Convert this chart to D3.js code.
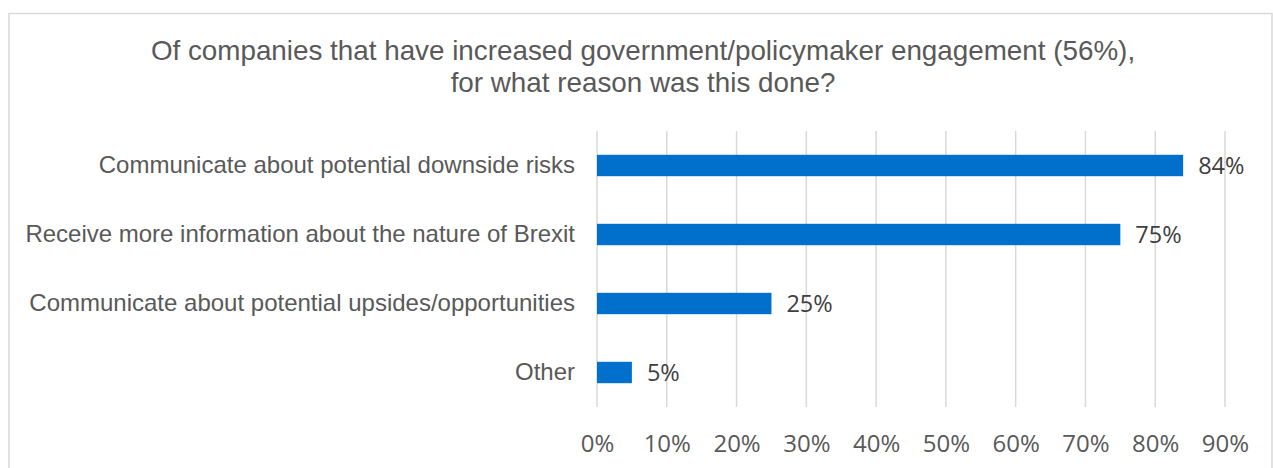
<!DOCTYPE html>
<html>
<head>
<meta charset="utf-8">
<script src="https://cdn.jsdelivr.net/npm/d3@7"></script>
<style>
  body { margin: 0; background: #fff; }
</style>
</head>
<body>
<script>
var categories = [
  "Communicate about potential downside risks",
  "Receive more information about the nature of Brexit",
  "Communicate about potential upsides/opportunities",
  "Other"
];
var values = [84, 75, 25, 5];
var ticks = [0, 10, 20, 30, 40, 50, 60, 70, 80, 90];
var titleLines = [
  "Of companies that have increased government/policymaker engagement (56%),",
  "for what reason was this done?"
];

var width = 1273, height = 468;
var textGrey = "#595959";

var svg = d3.select("body").append("svg")
    .attr("width", width)
    .attr("height", height);

// chart border (bottom edge runs off the picture)
svg.append("rect")
    .attr("x", 9)
    .attr("y", 13.5)
    .attr("width", 1263)
    .attr("height", 480)
    .attr("fill", "#fff")
    .attr("stroke", "#d9d9d9")
    .attr("stroke-width", 1.5);

svg.selectAll("text.title")
    .data(titleLines)
  .enter().append("text")
    .attr("class", "title")
    .attr("x", 643)
    .attr("y", function(d, i) { return 59.5 + i * 32.5; })
    .attr("text-anchor", "middle")
    .style("font-family", "Liberation Sans, Arial, sans-serif")
    .style("font-size", "27.8px")
    .style("fill", textGrey)
    .text(function(d) { return d; });

var x = d3.scaleLinear().domain([0, 90]).range([597, 1225]);
var y = d3.scaleBand().domain(categories).range([131, 407]).paddingInner(0.69).paddingOuter(0.345);

// gridlines
svg.selectAll("line.grid")
    .data(ticks)
  .enter().append("line")
    .attr("class", "grid")
    .attr("x1", function(d) { return x(d); })
    .attr("x2", function(d) { return x(d); })
    .attr("y1", 131)
    .attr("y2", 407)
    .attr("stroke", "#d9d9d9")
    .attr("stroke-width", 1.5);

// x axis labels
var xAxis = d3.axisBottom(x)
    .tickValues(ticks)
    .tickSize(0)
    .tickFormat(function(d) { return d + "%"; });

var gx = svg.append("g")
    .attr("transform", "translate(0,407)")
    .call(xAxis);
gx.select(".domain").remove();
gx.selectAll("text")
    .attr("y", 45)
    .attr("dy", 0)
    .style("font-family", "Open Sans, sans-serif")
    .style("font-size", "24px")
    .style("fill", textGrey);

// category labels
var yAxis = d3.axisLeft(y).tickSize(0).tickPadding(22);
var gy = svg.append("g")
    .attr("transform", "translate(597,0)")
    .call(yAxis);
gy.select(".domain").remove();
gy.selectAll("text")
    .style("font-family", "Liberation Sans, Arial, sans-serif")
    .style("font-size", "24px")
    .style("fill", textGrey);

// bars
svg.selectAll("rect.bar")
    .data(values)
  .enter().append("rect")
    .attr("class", "bar")
    .attr("x", x(0))
    .attr("y", function(d, i) { return y(categories[i]); })
    .attr("width", function(d) { return x(d) - x(0); })
    .attr("height", y.bandwidth())
    .attr("fill", "#0070cc");

// value labels
svg.selectAll("text.val")
    .data(values)
  .enter().append("text")
    .attr("class", "val")
    .attr("x", function(d) { return x(d) + 15; })
    .attr("y", function(d, i) { return y(categories[i]) + y.bandwidth() / 2; })
    .attr("dy", "0.35em")
    .style("font-family", "Open Sans, sans-serif")
    .style("font-size", "23.5px")
    .style("fill", "#404040")
    .text(function(d) { return d + "%"; });
</script>
</body>
</html>
